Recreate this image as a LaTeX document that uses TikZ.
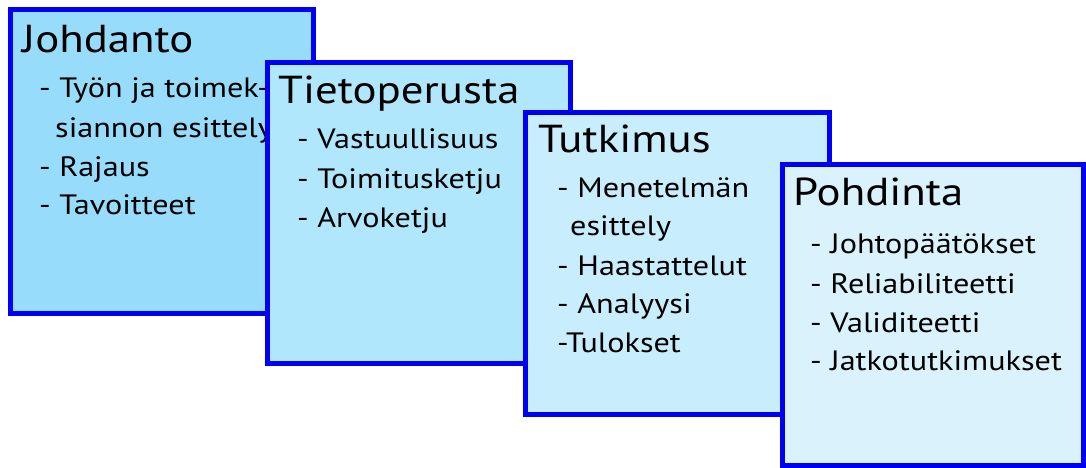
\documentclass[tikz,border=0pt]{standalone}
\usepackage{fontspec}
\setmainfont{PT Sans}[FakeStretch=1.15]
\definecolor{frameblue}{HTML}{0000F5}
\definecolor{fillA}{HTML}{97DDFB}
\definecolor{fillB}{HTML}{B0E7FC}
\definecolor{fillC}{HTML}{C8EEFD}
\definecolor{fillD}{HTML}{D9F2FC}
\tikzset{
  card/.style={draw=frameblue, line width=5pt, fill=#1},
  heading/.style={anchor=base west, inner sep=0pt, font=\fontsize{39}{44}\selectfont},
  item/.style={anchor=base west, inner sep=0pt, font=\fontsize{28}{32}\selectfont},
}
\begin{document}
\begin{tikzpicture}[x=1pt, y=-1pt]
  \useasboundingbox (0,0) rectangle (1086,468);

  % Johdanto
  \path[card=fillA] (10.5,9.5) rectangle (313.5,313.5);
  \node[heading] (t1) at (22,53) {Johdanto};
  \node[item] (a1) at (39,98) {- Työn ja toimek-};
  \node[item] (a2) at (55,137) {siannon esittely};
  \node[item] (a3) at (39,176) {- Rajaus};
  \node[item] (a4) at (39,214) {- Tavoitteet};

  % Tietoperusta
  \path[card=fillB] (267.5,62.5) rectangle (570.5,363.5);
  \node[heading] (t2) at (278,103) {Tietoperusta};
  \node[item] (b1) at (297,148) {- Vastuullisuus};
  \node[item] (b2) at (297,188) {- Toimitusketju};
  \node[item] (b3) at (297,227) {- Arvoketju};

  % Tutkimus
  \path[card=fillC] (525.5,112.5) rectangle (829.5,414.5);
  \node[heading] (t3) at (538,153) {Tutkimus};
  \node[item] (c1) at (557,197) {- Menetelmän};
  \node[item] (c2) at (570,235) {esittely};
  \node[item] (c3) at (557,275) {- Haastattelut};
  \node[item] (c4) at (557,313) {- Analyysi};
  \node[item] (c5) at (557,352) {-Tulokset};

  % Pohdinta
  \path[card=fillD] (782.5,164.5) rectangle (1083.5,465);
  \node[heading] (t4) at (793,205) {Pohdinta};
  \node[item] (d1) at (810,253) {- Johtopäätökset};
  \node[item] (d2) at (810,293) {- Reliabiliteetti};
  \node[item] (d3) at (810,332) {- Validiteetti};
  \node[item] (d4) at (810,370) {- Jatkotutkimukset};
\end{tikzpicture}
\end{document}
